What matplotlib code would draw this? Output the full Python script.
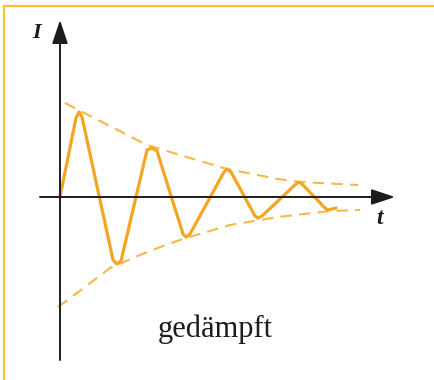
import matplotlib
matplotlib.use("Agg")
import matplotlib.pyplot as plt
from matplotlib.lines import Line2D

# damped oscillation I(t), arbitrary units
t_curve = [0.0, 1.6, 1.9, 2.2, 5.3, 5.7, 6.1, 8.7, 9.2, 9.7, 12.3, 12.6, 13.0,
           16.4, 16.7, 17.1, 19.5, 19.8, 20.2, 23.6, 23.9, 24.2, 26.5, 26.8, 27.6]
I_curve = [0.0, 7.9, 8.5, 8.0, -6.3, -6.7, -6.4, 4.7, 4.9, 4.6, -3.7, -4.0, -3.7,
           2.5, 2.8, 2.5, -1.9, -2.1, -1.9, 1.3, 1.5, 1.3, -1.1, -1.3, -1.1]

# envelope curves
t_upper = [0.5, 4.0, 8.7, 13.0, 16.7, 21.8, 24.0, 29.8]
I_upper = [9.4, 7.6, 5.2, 3.9, 2.8, 1.8, 1.5, 1.2]
t_lower = [-0.2, 2.5, 5.0, 8.0, 10.8, 12.6, 17.0, 21.8, 27.0, 30.0]
I_lower = [-11.0, -9.0, -7.1, -5.8, -4.7, -4.1, -2.8, -2.0, -1.4, -1.3]

orange = "#F4A623"
env_orange = "#F7B84A"
frame_orange = "#FBC13A"
ink = "#1c1c1c"

fig = plt.figure(figsize=(4.35, 3.8), dpi=100)
ax = fig.add_axes([0, 0, 1, 1])
ax.set_xlim(-6, 37.5)
ax.set_ylim(-18.3, 19.7)
ax.axis("off")

# coordinate axes with arrow heads
arrow = dict(arrowstyle="-|>,head_length=0.6,head_width=0.2", color=ink,
             lw=1.4, shrinkA=0, shrinkB=0, mutation_scale=24)
ax.annotate("", xy=(0, 17.7), xytext=(0, -16.3), arrowprops=arrow)
ax.annotate("", xy=(33.5, 0), xytext=(-2, 0), arrowprops=arrow)
ax.text(-2.3, 16.4, "I", fontsize=16, family="Liberation Serif", style="italic",
        weight="bold", color=ink, ha="center", va="center")
ax.text(32.0, -2.2, "t", fontsize=17, family="Liberation Serif", style="italic",
        weight="bold", color=ink, ha="center", va="center")

ax.plot(t_upper, I_upper, color=env_orange, lw=1.5, dashes=(5.5, 3.5))
ax.plot(t_lower, I_lower, color=env_orange, lw=1.5, dashes=(5.5, 3.5))
ax.plot(t_curve, I_curve, color=orange, lw=2.3, solid_joinstyle="round",
        solid_capstyle="round")

ax.text(15.5, -14.0, "gedämpft", fontsize=22, family="Liberation Serif",
        color=ink, ha="center", va="baseline")

# frame lines at top and left
fig.add_artist(Line2D([4 / 435, 1], [1 - 6 / 380, 1 - 6 / 380],
                      transform=fig.transFigure, color=frame_orange, lw=1.6))
fig.add_artist(Line2D([4 / 435, 4 / 435], [0, 1 - 6 / 380],
                      transform=fig.transFigure, color=frame_orange, lw=1.6))

fig.savefig("out.png", dpi=100)
